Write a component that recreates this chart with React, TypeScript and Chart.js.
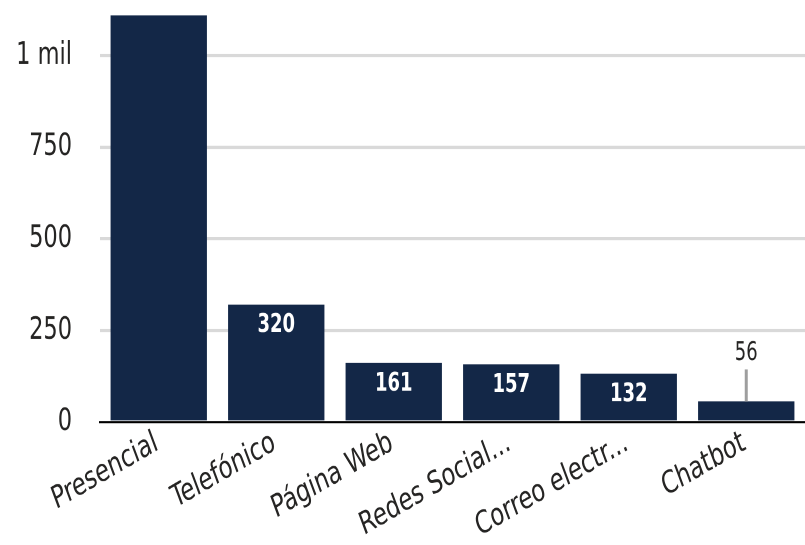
import React, { useEffect, useRef } from "react";
import { Chart, registerables } from "chart.js";

Chart.register(...registerables);

const categories = ["Presencial", "Telefónico", "Página Web", "Redes Social...", "Correo electr...", "Chatbot"];
const values = [1109, 320, 161, 157, 132, 56];
const shownLabels = ["", "320", "161", "157", "132", "56"];
const yTicks = [0, 250, 500, 750, 1000];
const yTickLabels = ["0", "250", "500", "750", "1 mil"];

const FONT = "'DejaVu Sans Condensed', 'Liberation Sans Narrow', Roboto, sans-serif";
const BAR = "#132747";
const TEXT = "#252423";
const S = 1.25; // vertical stretch of the whole drawing (tall condensed look)
const W = 805;
const H = 545;

const labelPlugin = {
  id: "barLabels",
  afterDatasetsDraw(chart: any) {
    const { ctx } = chart;
    const meta = chart.getDatasetMeta(0);
    meta.data.forEach((bar: any, i: number) => {
      const txt = shownLabels[i];
      if (!txt) return;
      const h = bar.base - bar.y;
      ctx.save();
      ctx.textAlign = "center";
      ctx.textBaseline = "middle";
      if (h > 35) {
        ctx.fillStyle = "#ffffff";
        ctx.font = `bold 20px ${FONT}`;
        ctx.fillText(txt, bar.x, bar.y + 16.8);
      } else {
        ctx.strokeStyle = "#9e9e9e";
        ctx.lineWidth = 3;
        ctx.beginPath();
        ctx.moveTo(bar.x, bar.y);
        ctx.lineTo(bar.x, bar.y - 25.6);
        ctx.stroke();
        ctx.fillStyle = TEXT;
        ctx.font = `20px ${FONT}`;
        ctx.fillText(txt, bar.x, bar.y - 38.4);
      }
      ctx.restore();
    });
  },
};

export default function App() {
  const ref = useRef<HTMLCanvasElement>(null);
  useEffect(() => {
    document.body.style.margin = "0";
    const chart = new Chart(ref.current!, {
      type: "bar",
      data: {
        labels: categories,
        datasets: [
          {
            data: values,
            backgroundColor: BAR,
            barPercentage: 0.82,
            categoryPercentage: 1,
          },
        ],
      },
      options: {
        animation: false,
        responsive: true,
        maintainAspectRatio: false,
        devicePixelRatio: 2,
        layout: { padding: { top: 12, left: 0, right: 0, bottom: 0 } },
        plugins: { legend: { display: false }, tooltip: { enabled: false } },
        scales: {
          x: {
            z: 1,
            grid: { display: false, drawTicks: false },
            border: { display: true, color: "#000000", width: 1.6 },
            ticks: {
              color: TEXT,
              font: { family: FONT, size: 25 },
              minRotation: 25,
              maxRotation: 25,
              autoSkip: false,
              padding: 2,
              labelOffset: -2,
            },
            afterFit(scale: any) {
              scale.height = H / S - 422 / S;
              scale.paddingLeft = 0;
              scale.paddingRight = 0;
            },
          },
          y: {
            min: 0,
            max: 1110,
            grid: {
              drawTicks: false,
              lineWidth: 2.6,
              color: (c: any) => (c.tick && c.tick.value === 0 ? "rgba(0,0,0,0)" : "#d9d9d9"),
            },
            border: { display: false },
            ticks: {
              stepSize: 250,
              includeBounds: false,
              padding: 28,
              color: TEXT,
              font: { family: FONT, size: 25 },
              callback: (v: any) => {
                const idx = yTicks.indexOf(Number(v));
                return idx >= 0 ? yTickLabels[idx] : "";
              },
            },
            afterFit(scale: any) {
              scale.width = 100;
              scale.paddingTop = 0;
              scale.paddingBottom = 0;
            },
          },
        },
      },
      plugins: [labelPlugin],
    });
    return () => chart.destroy();
  }, []);
  return (
    <div style={{ position: "relative", width: W, height: H, overflow: "hidden" }}>
      <div
        style={{
          position: "absolute",
          left: 0,
          top: 0,
          width: W,
          height: H / S,
          transform: `scale(1, ${S})`,
          transformOrigin: "0 0",
        }}
      >
        <canvas ref={ref} />
      </div>
    </div>
  );
}
